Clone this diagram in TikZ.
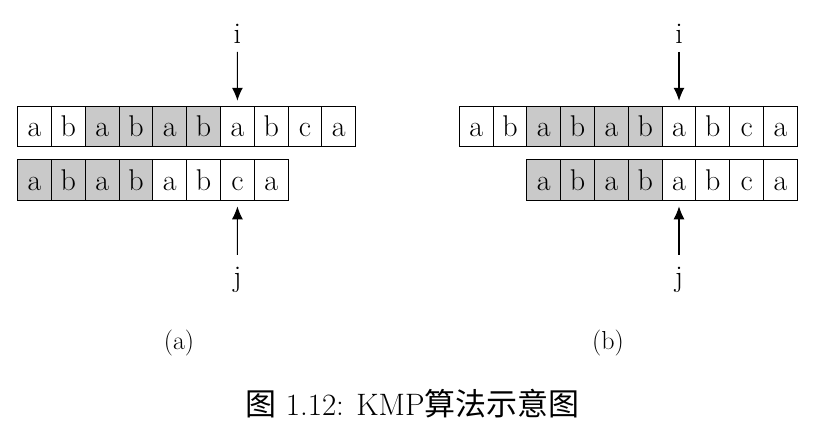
\documentclass[tikz,border=0pt]{standalone}
\usepackage{fontspec}
\newfontfamily\cjk{Noto Sans CJK SC}
\usetikzlibrary{arrows.meta}
\begin{document}
\begin{tikzpicture}[x=1pt,y=-1pt,
  cell/.style={draw, line width=1.1pt, minimum width=33.8pt, minimum height=40.5pt,
    inner sep=0pt, text height=20pt, text depth=0pt, font=\fontsize{30}{36}\selectfont},
  hit/.style={cell, fill=black!21},
  ptr/.style={line width=1.1pt, -{Latex[length=13pt,width=11pt]}},
  lbl/.style={inner sep=0pt, font=\fontsize{30}{36}\selectfont},
  sublbl/.style={inner sep=0pt, font=\fontsize{26}{30}\selectfont},
  figcap/.style={inner sep=0pt, font=\fontsize{31}{36}\selectfont}]
\useasboundingbox (0,0) rectangle (826,437);
% (a)
\foreach \c/\s [count=\k] in {a/cell,b/cell,a/hit,b/hit,a/hit,b/hit,a/cell,b/cell,c/cell,a/cell}
  \node[\s] (ta\k) at ({17.7+(\k-0.5)*33.8},126.35) {\c};
\foreach \c/\s [count=\k] in {a/hit,b/hit,a/hit,b/hit,a/cell,b/cell,c/cell,a/cell}
  \node[\s] (pa\k) at ({17.7+(\k-0.5)*33.8},180) {\c};
% (b)
\foreach \c/\s [count=\k] in {a/cell,b/cell,a/hit,b/hit,a/hit,b/hit,a/cell,b/cell,c/cell,a/cell}
  \node[\s] (tb\k) at ({459.3+(\k-0.5)*33.8},126.35) {\c};
\foreach \c/\s [count=\k] in {a/hit,b/hit,a/hit,b/hit,a/cell,b/cell,c/cell,a/cell}
  \node[\s] (pb\k) at ({526.9+(\k-0.5)*33.8},180) {\c};
% pointers
\node[lbl, text height=21pt, text depth=0pt, anchor=base] (ia) at (237.4,43) {i};
\node[lbl, text height=21pt, text depth=6pt, anchor=base] (ja) at (237.4,286) {j};
\node[lbl, text height=21pt, text depth=0pt, anchor=base] (ib) at (679,43) {i};
\node[lbl, text height=21pt, text depth=6pt, anchor=base] (jb) at (679,286) {j};
\draw[ptr, shorten <=8.7pt, shorten >=4.8pt] (ia.south) -- (ta7.north);
\draw[ptr, shorten <=8.7pt, shorten >=4.8pt] (ib.south) -- (tb7.north);
\draw[ptr, shorten <=10pt, shorten >=5.5pt] (ja.north) -- (pa7.south);
\draw[ptr, shorten <=10pt, shorten >=5.5pt] (jb.north) -- (pb5.south);
% captions
\node[sublbl] (sa) at (179,343) {(a)};
\node[sublbl] (sb) at (608,343) {(b)};
\node[figcap, anchor=base] (fc) at (412.5,415) {{\cjk 图} 1.12: KMP{\cjk 算法示意图}};
\end{tikzpicture}
\end{document}
